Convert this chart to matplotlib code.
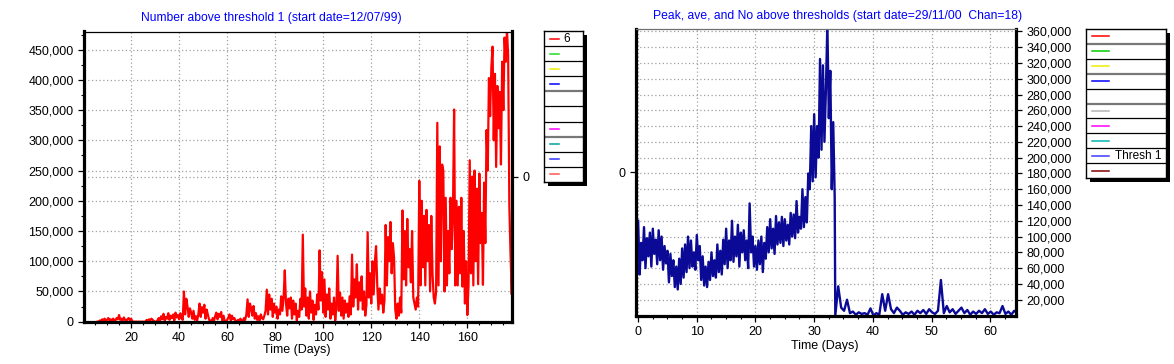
import numpy as np
import matplotlib
matplotlib.use('Agg')
import matplotlib.pyplot as plt
from matplotlib.ticker import MultipleLocator, FixedLocator, FuncFormatter
from matplotlib.patches import Rectangle

plt.rcParams['font.family'] = ['Liberation Sans', 'DejaVu Sans']
plt.rcParams['font.size'] = 9

# ---- left chart: number above threshold 1, one value per half day from day 6 (in thousands)
left_start = 6.0
left_step = 0.5
left_k = [
    0, 0, 2, 1, 4, 2, 5, 1, 3, 6, 2, 4, 1, 5, 3, 2, 6, 4, 11, 3,
    5, 2, 7, 3, 1, 4, 6, 2, 5, 1, 0, 0, 0, 0, 0, 0, 0, 0, 0, 0,
    0, 3, 1, 4, 2, 5, 3, 1, 0, 0, 2, 6, 1, 9, 4, 13, 2, 8, 5, 14,
    3, 10, 6, 12, 2, 15, 7, 11, 4, 14, 6, 3, 50, 12, 38, 25, 8, 22, 15, 5,
    18, 3, 9, 2, 12, 30, 8, 24, 15, 28, 5, 20, 11, 3, 2, 0, 6, 1, 9, 15,
    4, 13, 8, 16, 2, 10, 1, 0, 3, 7, 12, 2, 10, 4, 6, 1, 0, 3, 0, 5,
    2, 0, 6, 3, 12, 37, 8, 30, 22, 10, 26, 5, 14, 3, 9, 2, 12, 6, 4, 10,
    18, 53, 12, 45, 20, 38, 8, 30, 15, 25, 5, 20, 12, 42, 18, 40, 85, 30, 10, 38,
    22, 40, 5, 35, 12, 30, 2, 18, 8, 38, 20, 144, 25, 55, 10, 40, 5, 50, 15, 35,
    3, 28, 12, 45, 20, 118, 35, 82, 15, 70, 8, 45, 20, 55, 5, 30, 12, 40, 2, 25,
    109, 18, 48, 10, 40, 5, 35, 15, 30, 8, 42, 12, 111, 25, 70, 40, 95, 20, 65, 35,
    75, 20, 50, 10, 28, 148, 40, 80, 30, 100, 45, 98, 125, 60, 20, 55, 30, 45, 15, 35,
    160, 60, 140, 100, 165, 80, 130, 105, 20, 5, 30, 10, 40, 15, 184, 70, 150, 60, 170, 90,
    120, 65, 150, 40, 30, 20, 40, 25, 233, 60, 200, 90, 175, 60, 185, 100, 160, 50, 175, 80,
    40, 30, 50, 329, 60, 290, 100, 260, 250, 50, 205, 60, 150, 80, 205, 120, 175, 351, 60, 200,
    60, 190, 80, 205, 58, 150, 30, 100, 11, 60, 267, 80, 240, 60, 250, 100, 220, 62, 245, 130,
    180, 61, 230, 130, 317, 250, 403, 340, 420, 455, 300, 410, 256, 390, 320, 380, 260, 430, 350, 470,
    430, 483, 440, 190, 110, 45, 240,
]

# ---- right chart: Thresh 1, quarter-day values up to the drop, then half-day values (thousands)
right_early_step = 0.25
right_early_k = [
    120, 52, 92, 70, 112, 60, 98, 75, 105, 62, 110, 78, 96, 65, 108, 70,
    100, 58, 88, 66, 82, 42, 78, 50, 70, 36, 62, 33, 72, 40, 85, 48,
    90, 55, 100, 60, 95, 62, 80, 58, 102, 70, 88, 45, 75, 38, 62, 36,
    68, 45, 80, 50, 70, 48, 90, 55, 82, 52, 96, 65, 110, 60, 95, 70,
    120, 68, 100, 75, 115, 62, 105, 80, 108, 70, 95, 60, 142, 80, 100, 62,
    88, 58, 95, 65, 100, 55, 92, 72, 112, 80, 122, 85, 110, 78, 126, 90,
    118, 92, 125, 88, 122, 95, 115, 90, 130, 100, 128, 98, 145, 105, 125, 110,
    160, 112, 150, 118, 180, 160, 240, 170, 255, 175, 240, 200, 325, 210, 317, 220,
    285, 370, 250, 310, 160, 245, 150,
]
right_late_start = 33.6
right_late_step = 0.5
right_late_k = [
    0, 37, 10, 6, 20, 3, 5, 1, 4, 2, 3, 1, 9, 0, 3, 1, 27, 6, 27, 8,
    3, 10, 6, 1, 4, 2, 5, 1, 6, 3, 7, 2, 8, 4, 2, 6, 45, 3, 12, 4,
    8, 2, 6, 10, 3, 7, 1, 5, 2, 6, 3, 8, 2, 5, 1, 4, 3, 12, 2, 5,
    1, 6, 3,
]

left_title = 'Number above threshold 1 (start date=12/07/99)'
right_title = 'Peak, ave, and No above thresholds (start date=29/11/00  Chan=18)'

left_leg_colors = ['#ff0000', '#22dd22', '#eeee00', '#0000ff', None, None,
                   '#ff00ff', '#00a0a0', '#3333ff', '#ff5555']
left_leg_labels = ['6', '', '', '', '', '', '', '', '', '']
right_leg_colors = ['#ff0000', '#00cc00', '#eeee00', '#0000ff', None, '#b4b4b4',
                    '#ff00ff', '#00b4b4', '#3c3cff', '#800000']
right_leg_labels = ['', '', '', '', '', '', '', '', 'Thresh 1', '']

W, H = 1174, 364
fig = plt.figure(figsize=(W / 100, H / 100), dpi=100)


def box(x0, y0, x1, y1):
    # pixel box (top-left origin) -> figure rect
    return [x0 / W, 1 - y1 / H, (x1 - x0) / W, (y1 - y0) / H]


comma = FuncFormatter(lambda v, p: '{:,.0f}'.format(v))
gridkw = dict(color='#a0a0a0', linestyle=(0, (1, 2)), linewidth=0.9)


def style(ax, topcolor):
    for s in ['left', 'bottom', 'right']:
        ax.spines[s].set_linewidth(2.3)
        ax.spines[s].set_color('black')
    ax.spines['top'].set_linewidth(0.9)
    ax.spines['top'].set_color(topcolor)
    ax.tick_params(which='major', length=4, width=0.9, direction='out', colors='black')
    ax.tick_params(which='minor', length=2, width=0.8, direction='out')


# ---------------- left panel
axL = fig.add_axes(box(84, 31.5, 512, 321.7))
axL2 = axL.twinx()
axL.set_zorder(axL2.get_zorder() + 1)
axL.patch.set_visible(False)

left_days = left_start + left_step * np.arange(len(left_k))
axL.plot(left_days, np.array(left_k) * 1000, color='#ff0000', lw=1.6)
axL.set_xlim(0.4, 178.6)
axL.set_ylim(0, 480000)
axL.xaxis.set_major_locator(MultipleLocator(20))
axL.xaxis.set_minor_locator(MultipleLocator(5))
axL.yaxis.set_major_locator(MultipleLocator(50000))
axL.yaxis.set_minor_locator(MultipleLocator(25000))
axL.yaxis.set_major_formatter(comma)
axL.grid(True, which='major', **gridkw)
style(axL, 'black')

axL2.set_ylim(-1, 1)
axL2.set_yticks([0])
axL2.grid(True, axis='y', **gridkw)
for s in axL2.spines.values():
    s.set_visible(False)
axL2.tick_params(axis='y', length=4, width=0.9)

fig.text(271 / W, 1 - 18 / H, left_title, color='#0000ff', ha='center', va='center', fontsize=8.7)
fig.text(297 / W, 1 - 350 / H, 'Time (Days)', ha='center', va='center', fontsize=9)

# ---------------- right panel
axR = fig.add_axes(box(635.5, 29, 1016, 315.5))
axR2 = axR.twinx()
axR.set_zorder(axR2.get_zorder() + 1)
axR.patch.set_visible(False)

early_days = right_early_step * np.arange(len(right_early_k))
late_days = right_late_start + right_late_step * np.arange(len(right_late_k))
right_days = np.concatenate([early_days, late_days])
right_vals = np.array(right_early_k + right_late_k) * 1000
axR.plot(right_days, right_vals, color='#0a0a96', lw=1.7)
axR.set_xlim(-0.45, 64.4)
axR.set_ylim(0, 363000)
axR.xaxis.set_major_locator(MultipleLocator(10))
axR.xaxis.set_minor_locator(MultipleLocator(2.5))
axR.yaxis.set_major_locator(FixedLocator(np.arange(20000, 360001, 20000)))
axR.yaxis.set_major_formatter(comma)
axR.yaxis.tick_right()
axR.grid(True, which='major', **gridkw)
style(axR, '#707070')

axR2.set_ylim(-1, 1)
axR2.set_yticks([0])
axR2.yaxis.tick_left()
for s in axR2.spines.values():
    s.set_visible(False)
axR2.tick_params(axis='y', length=4, width=0.9)

fig.text(838 / W, 1 - 16 / H, right_title, color='#0000ff', ha='center', va='center', fontsize=8.7)
fig.text(825 / W, 1 - 346 / H, 'Time (Days)', ha='center', va='center', fontsize=9)


# ---------------- legend boxes
def draw_legend(x0, y0, x1, y1, colors, labels, grey_seps, line_x, line_len, text_x):
    shadow = Rectangle(((x0 + 4) / W, 1 - (y1 + 4) / H), (x1 - x0) / W, (y1 - y0) / H,
                       transform=fig.transFigure, facecolor='black', edgecolor='none', zorder=-5)
    fig.patches.append(shadow)
    lg = fig.add_axes(box(x0, y0, x1, y1))
    lg.set_xlim(0, x1 - x0)
    lg.set_ylim(y1 - y0, 0)
    lg.set_xticks([])
    lg.set_yticks([])
    for s in lg.spines.values():
        s.set_linewidth(1.0)
        s.set_color('black')
    n = len(colors)
    rh = (y1 - y0) / n
    for i in range(n):
        yc = (i + 0.5) * rh
        if colors[i]:
            lg.plot([line_x, line_x + line_len], [yc, yc], color=colors[i], lw=1.1)
        if labels[i]:
            lg.text(text_x, yc, labels[i], ha='left', va='center', fontsize=8.5)
        if i > 0:
            if i in grey_seps:
                lg.axhline(i * rh, color='#777777', lw=1.6)
            else:
                lg.axhline(i * rh, color='black', lw=0.9)


draw_legend(544, 31, 583, 182, left_leg_colors, left_leg_labels, [4, 7], 6, 9, 19.5)
draw_legend(1086, 29, 1166, 178, right_leg_colors, right_leg_labels, [1, 3, 5], 5.7, 17.6, 29)

fig.savefig('out.png', dpi=100)
